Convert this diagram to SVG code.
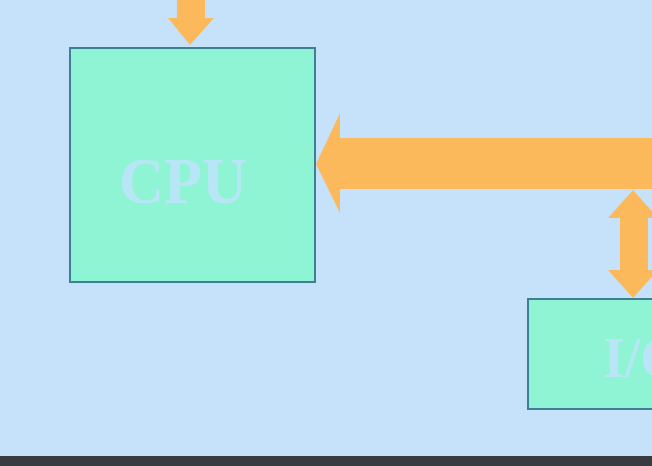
<svg xmlns="http://www.w3.org/2000/svg" width="652" height="466" viewBox="0 0 652 466">
<style>
.box{fill:#8ef4d3;stroke:#3f7f95;stroke-width:2}
.lbl{font-family:"Liberation Serif",serif;font-weight:bold;fill:#b8e6f6}
.arr{fill:#fbb95b}
</style>
<rect x="0" y="0" width="652" height="466" fill="#c6e2fb"/>
<g id="connectors">
<polygon class="arr" points="177,0 205,0 205,18 214,18 190,45 168,18 177,18"/>
<polygon class="arr" points="652,138 340,138 340,113 316,164 340,213 340,189 652,189"/>
<polygon class="arr" points="633,190 658,218 648,218 648,270 658,270 633,298 608,270 620,270 620,218 608,218"/>
</g>
<g id="cpu">
<rect class="box" x="70" y="48" width="245" height="234"/>
<text class="lbl" x="183" y="203" font-size="66" text-anchor="middle" textLength="128" lengthAdjust="spacingAndGlyphs">CPU</text>
</g>
<g id="io">
<rect class="box" x="528" y="299" width="140" height="110"/>
<text class="lbl" x="603" y="377" font-size="56">I/O</text>
</g>
<rect x="0" y="456" width="652" height="10" fill="#383b3f"/>
</svg>
